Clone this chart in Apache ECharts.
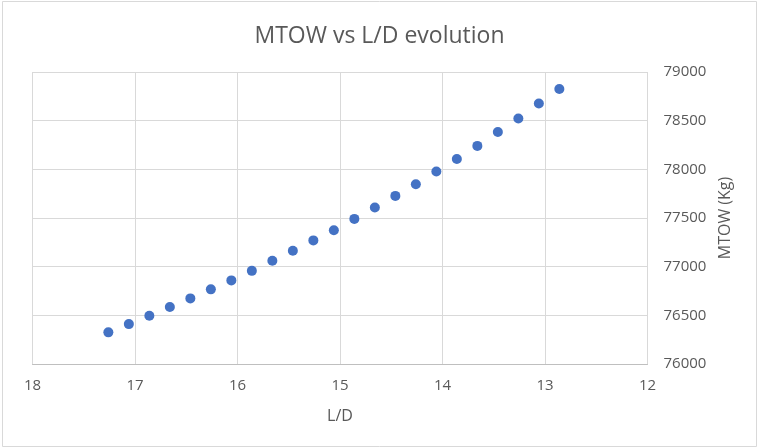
<!DOCTYPE html>
<html>
<head>
<meta charset="utf-8">
<style>html,body{margin:0;padding:0;background:#fff}#c{width:759px;height:448px}</style>
<script src="https://cdn.jsdelivr.net/npm/echarts@6/dist/echarts.min.js"></script>
</head>
<body>
<div id="c"></div>
<script>
const ldValues = [17.26, 17.06, 16.86, 16.66, 16.46, 16.26, 16.06, 15.86, 15.66, 15.46, 15.26, 15.06, 14.86, 14.66, 14.46, 14.26, 14.06, 13.86, 13.66, 13.46, 13.26, 13.06, 12.86];
const mtowValues = [76325, 76410, 76496, 76585, 76674, 76767, 76859, 76957, 77060, 77163, 77270, 77375, 77491, 77608, 77727, 77847, 77978, 78107, 78241, 78384, 78522, 78676, 78826];
const titleText = 'MTOW vs L/D evolution';
const xName = 'L/D';
const yName = 'MTOW (Kg)';

const points = ldValues.map((x, i) => [x, mtowValues[i]]);
const font = '"Open Sans", sans-serif';
const chart = echarts.init(document.getElementById('c'));
chart.setOption({
  animation: false,
  backgroundColor: '#fff',
  title: {
    text: titleText, left: 'center', top: 20,
    textStyle: { fontFamily: font, fontSize: 23, fontWeight: 'normal', color: '#595959' }
  },
  graphic: [{
    type: 'rect', shape: { x: 2.5, y: 1.5, width: 754, height: 445 },
    style: { fill: 'none', stroke: '#d9d9d9', lineWidth: 1 }, silent: true
  }],
  grid: { left: 32.5, right: 111.5, top: 72, bottom: 84, containLabel: false },
  xAxis: {
    type: 'value', min: 12, max: 18, interval: 1, inverse: true,
    name: xName, nameLocation: 'middle', nameGap: 44,
    nameTextStyle: { fontFamily: font, fontSize: 16, color: '#595959' },
    axisLine: { show: true, lineStyle: { color: '#bfbfbf', width: 1 } },
    axisTick: { show: false },
    axisLabel: { fontFamily: font, fontSize: 15, color: '#595959', margin: 14 },
    splitLine: { show: true, lineStyle: { color: '#d9d9d9', width: 1 } }
  },
  yAxis: {
    type: 'value', position: 'right', min: 76000, max: 79000, interval: 500,
    name: yName, nameLocation: 'middle', nameGap: 66,
    nameTextStyle: { fontFamily: font, fontSize: 16, color: '#595959' },
    axisLine: { show: false },
    axisTick: { show: false },
    axisLabel: { fontFamily: font, fontSize: 15, color: '#595959', margin: 16, formatter: v => String(v) },
    splitLine: { show: true, lineStyle: { color: '#d9d9d9', width: 1 } }
  },
  series: [{
    type: 'scatter', data: points, symbol: 'circle', symbolSize: 10,
    itemStyle: { color: '#4472C4', opacity: 1 }
  }]
});
</script>
</body>
</html>
